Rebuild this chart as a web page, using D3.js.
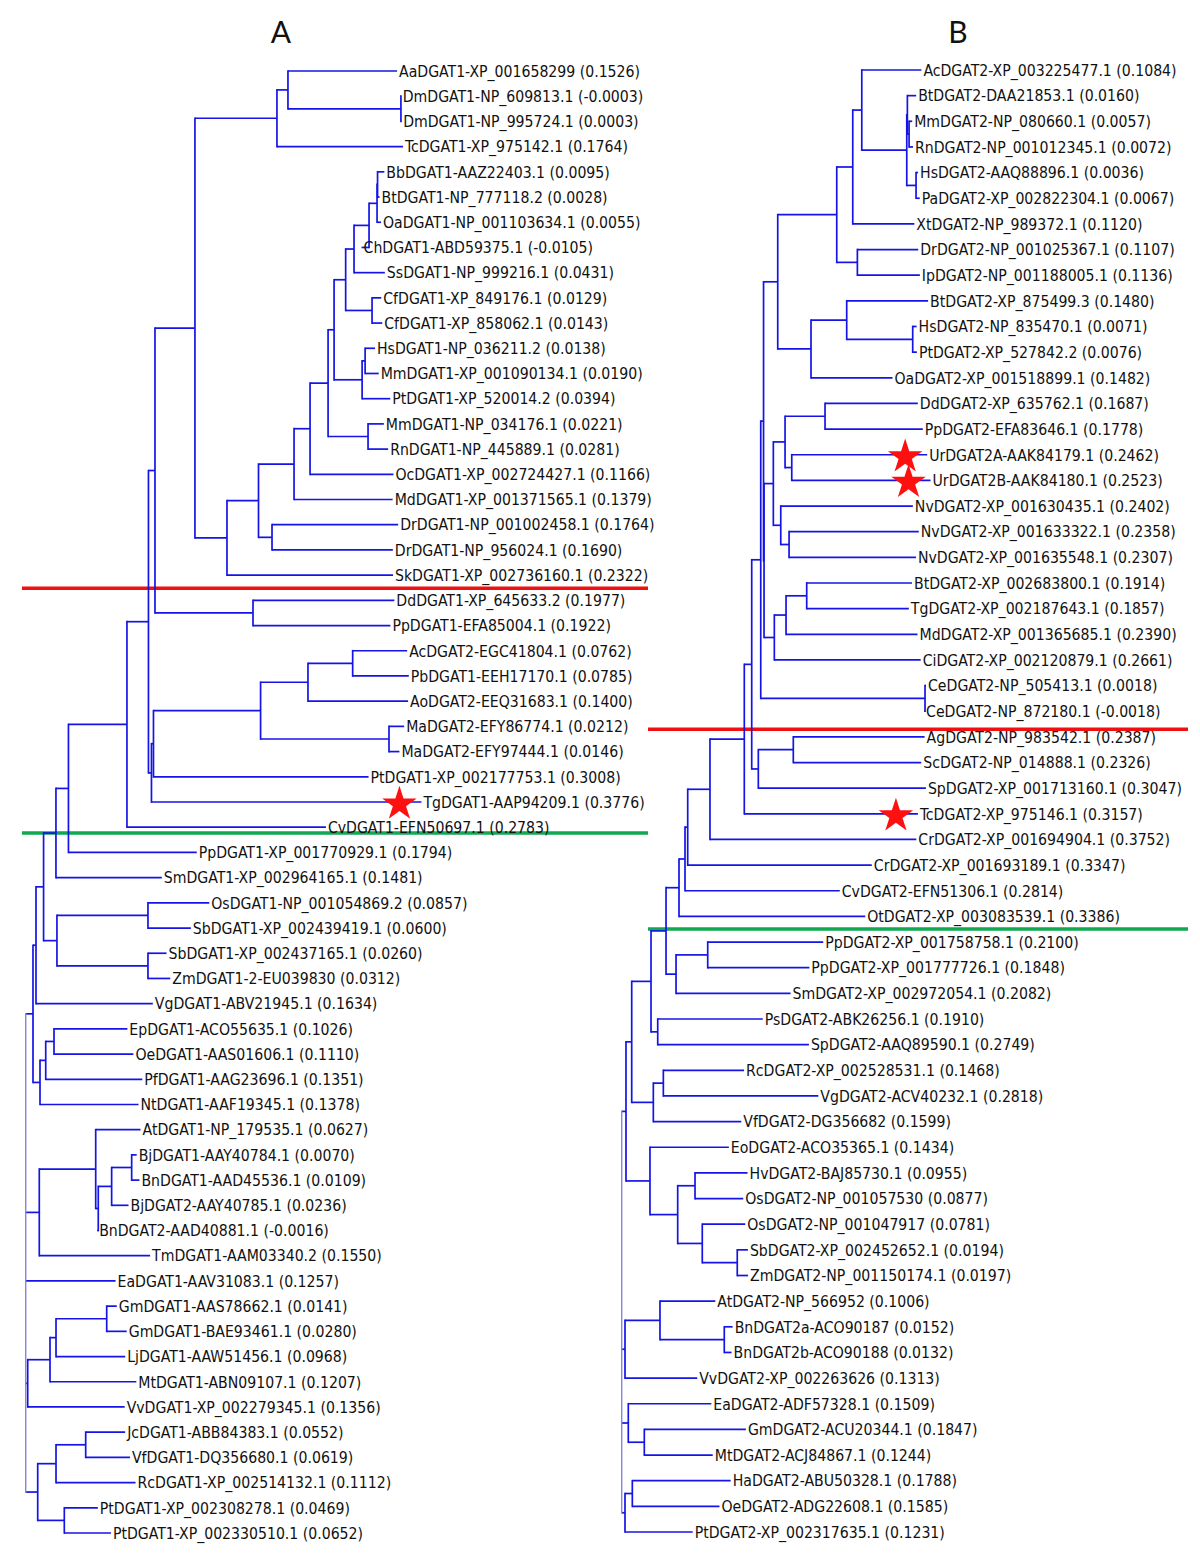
<!DOCTYPE html>
<html><head><meta charset="utf-8">
<script src="https://cdn.jsdelivr.net/npm/d3@7"></script>
<style>body{margin:0;background:#fff}svg{display:block}</style>
</head><body>
<script>
// ---------- Tree A (DGAT1) ----------
const titleA = "A";
const leavesA = [
 ["AaDGAT1-XP_001658299","a288",0.1526],
 ["DmDGAT1-NP_609813.1","aDm",-0.0003],
 ["DmDGAT1-NP_995724.1","aDm",0.0003],
 ["TcDGAT1-XP_975142.1","a277",0.1764],
 ["BbDGAT1-AAZ22403.1","aX1",0.0095],
 ["BtDGAT1-NP_777118.2","aX1",0.0028],
 ["OaDGAT1-NP_001103634.1","aX2",0.0055],
 ["ChDGAT1-ABD59375.1","a369",-0.0105],
 ["SsDGAT1-NP_999216.1","a354",0.0431],
 ["CfDGAT1-XP_849176.1","aCf",0.0129],
 ["CfDGAT1-XP_858062.1","aCf",0.0143],
 ["HsDGAT1-NP_036211.2","a365",0.0138],
 ["MmDGAT1-XP_001090134.1","a365",0.0190],
 ["PtDGAT1-XP_520014.2","a362",0.0394],
 ["MmDGAT1-NP_034176.1","aMR",0.0221],
 ["RnDGAT1-NP_445889.1","aMR",0.0281],
 ["OcDGAT1-XP_002724427.1","a310",0.1166],
 ["MdDGAT1-XP_001371565.1","a294",0.1379],
 ["DrDGAT1-NP_001002458.1","aDr",0.1764],
 ["DrDGAT1-NP_956024.1","aDr",0.1690],
 ["SkDGAT1-XP_002736160.1","a227",0.2322],
 ["DdDGAT1-XP_645633.2","aDP",0.1977],
 ["PpDGAT1-EFA85004.1","aDP",0.1922],
 ["AcDGAT2-EGC41804.1","aU",0.0762],
 ["PbDGAT1-EEH17170.1","aU",0.0785],
 ["AoDGAT2-EEQ31683.1","aT",0.1400],
 ["MaDGAT2-EFY86774.1","aMa",0.0212],
 ["MaDGAT2-EFY97444.1","aMa",0.0146],
 ["PtDGAT1-XP_002177753.1","aR",0.3008],
 ["TgDGAT1-AAP94209.1","aQ",0.3776],
 ["CvDGAT1-EFN50697.1","a127",0.2783],
 ["PpDGAT1-XP_001770929.1","a68",0.1794],
 ["SmDGAT1-XP_002964165.1","a56",0.1481],
 ["OsDGAT1-NP_001054869.2","aOS",0.0857],
 ["SbDGAT1-XP_002439419.1","aOS",0.0600],
 ["SbDGAT1-XP_002437165.1","aSZ",0.0260],
 ["ZmDGAT1-2-EU039830","aSZ",0.0312],
 ["VgDGAT1-ABV21945.1","a36",0.1634],
 ["EpDGAT1-ACO55635.1","a54",0.1026],
 ["OeDGAT1-AAS01606.1","a54",0.1110],
 ["PfDGAT1-AAG23696.1","a45",0.1351],
 ["NtDGAT1-AAF19345.1","a40",0.1378],
 ["AtDGAT1-NP_179535.1","a95",0.0627],
 ["BjDGAT1-AAY40784.1","aBB",0.0070],
 ["BnDGAT1-AAD45536.1","aBB",0.0109],
 ["BjDGAT2-AAY40785.1","a111",0.0236],
 ["BnDGAT2-AAD40881.1","a98",-0.0016],
 ["TmDGAT1-AAM03340.2","a39",0.1550],
 ["EaDGAT1-AAV31083.1","rA",0.1257],
 ["GmDGAT1-AAS78662.1","aGm",0.0141],
 ["GmDGAT1-BAE93461.1","aGm",0.0280],
 ["LjDGAT1-AAW51456.1","a56L",0.0968],
 ["MtDGAT1-ABN09107.1","a50",0.1207],
 ["VvDGAT1-XP_002279345.1","a27",0.1356],
 ["JcDGAT1-ABB84383.1","a85",0.0552],
 ["VfDGAT1-DQ356680.1","a85",0.0619],
 ["RcDGAT1-XP_002514132.1","a56J",0.1112],
 ["PtDGAT1-XP_002308278.1","a64",0.0469],
 ["PtDGAT1-XP_002330510.1","a64",0.0652]
];
const internalA = [
 ["rA",null,0],["a33","rA",0.0102],["a36","a33",0.0042],["a43","a36",0.0106],
 ["a56","a43",0.0173],["a68","a56",0.0175],["a127","a68",0.0818],["a148","a127",0.0301],
 ["a155","a148",0.0091],["a195","a155",0.0559],["a277","a195",0.1147],["a288","a277",0.0154],
 ["aDm","a288",0.1580],["a227","a195",0.0448],["a258","a227",0.0441],["a294","a258",0.0497],
 ["a310","a294",0.0224],["a328","a310",0.0252],["a334","a328",0.0084],["a345","a334",0.0162],
 ["a354","a345",0.0117],["a369","a354",0.0210],["aX2","a369",0.0112],["aX1","aX2",0.0007],
 ["aCf","a345",0.0369],["a362","a334",0.0392],["a365","a362",0.0042],["aMR","a328",0.0559],
 ["aDr","a258",0.0189],["aDP","a155",0.1371],["aQ","a148",0.0042],["aR","aQ",0.0028],
 ["aS","aR",0.1498],["aT","aS",0.0663],["aU","aT",0.0625],["aMa","aS",0.1796],
 ["a57","a43",0.0187],["aOS","a57",0.1273],["aSZ","a57",0.1273],["a40","a33",0.0098],
 ["a45","a40",0.0080],["a54","a45",0.0116],["a39","rA",0.0190],["a95","a39",0.0789],
 ["a98","a95",0.0036],["a111","a98",0.0187],["aBB","a111",0.0280],["a27","rA",0.0028],
 ["a50","a27",0.0312],["a56L","a50",0.0084],["aGm","a56L",0.0709],["a37","rA",0.0168],
 ["a56J","a37",0.0256],["a85","a56J",0.0415],["a64","a37",0.0372]
];
const starredA = ["TgDGAT1-AAP94209.1"];
const dividersA = [["SkDGAT1-XP_002736160.1",0.52,"red"],["CvDGAT1-EFN50697.1",0.23,"green"]];

// ---------- Tree B (DGAT2) ----------
const titleB = "B";
const leavesB = [
 ["AcDGAT2-XP_003225477.1","bAc",0.1084],
 ["BtDGAT2-DAA21853.1","bM2",0.0160],
 ["MmDGAT2-NP_080660.1","bMR",0.0057],
 ["RnDGAT2-NP_001012345.1","bMR",0.0072],
 ["HsDGAT2-AAQ88896.1","bHP",0.0036],
 ["PaDGAT2-XP_002822304.1","bHP",0.0067],
 ["XtDGAT2-NP_989372.1","b852",0.1120],
 ["DrDGAT2-NP_001025367.1","bDI",0.1107],
 ["IpDGAT2-NP_001188005.1","bDI",0.1136],
 ["BtDGAT2-XP_875499.3","b846",0.1480],
 ["HsDGAT2-NP_835470.1","bHPt",0.0071],
 ["PtDGAT2-XP_527842.2","bHPt",0.0076],
 ["OaDGAT2-XP_001518899.1","b811",0.1482],
 ["DdDGAT2-XP_635762.1","bDP",0.1687],
 ["PpDGAT2-EFA83646.1","bDP",0.1778],
 ["UrDGAT2A-AAK84179.1","bUr",0.2462],
 ["UrDGAT2B-AAK84180.1","bUr",0.2523],
 ["NvDGAT2-XP_001630435.1","bNv",0.2402],
 ["NvDGAT2-XP_001633322.1","bNv2",0.2358],
 ["NvDGAT2-XP_001635548.1","bNv2",0.2307],
 ["BtDGAT2-XP_002683800.1","bBT",0.1914],
 ["TgDGAT2-XP_002187643.1","bBT",0.1857],
 ["MdDGAT2-XP_001365685.1","b786",0.2390],
 ["CiDGAT2-XP_002120879.1","b774",0.2661],
 ["CeDGAT2-NP_505413.1","bCe",0.0018],
 ["CeDGAT2-NP_872180.1","bCe",-0.0018],
 ["AgDGAT2-NP_983542.1","bAS",0.2387],
 ["ScDGAT2-NP_014888.1","bAS",0.2326],
 ["SpDGAT2-XP_001713160.1","b758",0.3047],
 ["TcDGAT2-XP_975146.1","b744",0.3157],
 ["CrDGAT2-XP_001694904.1","b710",0.3752],
 ["CrDGAT2-XP_001693189.1","b687",0.3347],
 ["CvDGAT2-EFN51306.1","b685",0.2814],
 ["OtDGAT2-XP_003083539.1","b679",0.3386],
 ["PpDGAT2-XP_001758758.1","bPP",0.2100],
 ["PpDGAT2-XP_001777726.1","bPP",0.1848],
 ["SmDGAT2-XP_002972054.1","b676",0.2082],
 ["PsDGAT2-ABK26256.1","bPS",0.1910],
 ["SpDGAT2-AAQ89590.1","bPS",0.2749],
 ["RcDGAT2-XP_002528531.1","bRV",0.1468],
 ["VgDGAT2-ACV40232.1","bRV",0.2818],
 ["VfDGAT2-DG356682","b653",0.1599],
 ["EoDGAT2-ACO35365.1","b650",0.1434],
 ["HvDGAT2-BAJ85730.1","bHO",0.0955],
 ["OsDGAT2-NP_001057530","bHO",0.0877],
 ["OsDGAT2-NP_001047917","b702",0.0781],
 ["SbDGAT2-XP_002452652.1","bSZ",0.0194],
 ["ZmDGAT2-NP_001150174.1","bSZ",0.0197],
 ["AtDGAT2-NP_566952","bAB",0.1006],
 ["BnDGAT2a-ACO90187","bBn",0.0152],
 ["BnDGAT2b-ACO90188","bBn",0.0132],
 ["VvDGAT2-XP_002263626","b625",0.1313],
 ["EaDGAT2-ADF57328.1","b628",0.1509],
 ["GmDGAT2-ACU20344.1","bGM",0.1847],
 ["MtDGAT2-ACJ84867.1","bGM",0.1244],
 ["HaDGAT2-ABU50328.1","bHa",0.1788],
 ["OeDGAT2-ADG22608.1","bHa",0.1585],
 ["PtDGAT2-XP_002317635.1","b625b",0.1231]
];
const internalB = [
 ["rB",null,0],["b626","rB",0.0078],["b631","b626",0.0104],["b651","b631",0.0351],
 ["b666","b651",0.0273],["b679","b666",0.0236],["b685","b679",0.0109],["b687","b685",0.0049],
 ["b710","b687",0.0405],["b744","b710",0.0624],["b751","b744",0.0135],["b760","b751",0.0164],
 ["b763","b760",0.0051],["b777","b763",0.0258],["b836","b777",0.1073],["b852","b836",0.0291],
 ["bAc","b852",0.0164],["bM1","bAc",0.0818],["bM2","bM1",0.0011],["bMR","bM2",0.0031],
 ["bHP","bM1",0.0169],["bDI","b836",0.0375],["b811","b777",0.0605],["b846","b811",0.0649],
 ["bHPt","b846",0.1200],["b764","b763",0.0009],["b773","b764",0.0169],["b785","b773",0.0213],
 ["bDP","b785",0.0727],["bUr","b785",0.0122],["bNv","b773",0.0135],["bNv2","bNv",0.0151],
 ["b774","b764",0.0187],["b786","b774",0.0213],["bBT","b786",0.0376],["bCe","b760",0.2987],
 ["b758","b751",0.0120],["bAS","b758",0.0636],["b676","b666",0.0182],["bPP","b676",0.0576],
 ["bPS","b651",0.0122],["b653","b631",0.0393],["bRV","b653",0.0182],["b650","b626",0.0436],
 ["b677","b650",0.0504],["bHO","b677",0.0315],["b702","b677",0.0447],["bSZ","b702",0.0636],
 ["b625","rB",0.0060],["bAB","b625",0.0636],["bBn","bAB",0.1169],["b628","rB",0.0120],
 ["bGM","b628",0.0291],["b625b","rB",0.0060],["bHa","b625b",0.0133]
];
const starredB = ["UrDGAT2A-AAK84179.1","UrDGAT2B-AAK84180.1","TcDGAT2-XP_975146.1"];
const dividersB = [["CeDGAT2-NP_872180.1",0.70,"red"],["OtDGAT2-XP_003083539.1",0.49,"green"]];

// ---------- drawing ----------
const W = 1200, H = 1553;
const svg = d3.select("body").append("svg").attr("width", W).attr("height", H);
svg.append("rect").attr("width", W).attr("height", H).attr("fill", "#fff");

const BRANCH = "#1414e6", ROOTC = "#8585e2";
const FONT = "'DejaVu Sans Condensed', 'DejaVu Sans', sans-serif";
const FS = 16;
const colorMap = {red: "#f01010", green: "#10a850"};

// horizontal squeeze so the reference label width matches the original
const probe = svg.append("text").attr("font-family", FONT).attr("font-size", FS)
  .text("AaDGAT1-XP_001658299 (0.1526)");
const kx = Math.min(1, 241 / probe.node().getComputedTextLength());
probe.remove();

function drawTree(cfg) {
  const {leaves, internal, starred, dividers} = cfg;
  const rows = internal.map(d => ({id: d[0], parent: d[1], len: d[2], idx: null}))
    .concat(leaves.map((d, i) => ({id: d[0], parent: d[1], len: d[2], idx: i})));
  const root = d3.stratify().id(d => d.id).parentId(d => d.parent)(rows);
  root.eachAfter(n => { n.minIdx = n.children ? d3.min(n.children, c => c.minIdx) : n.data.idx; });
  root.sort((a, b) => a.minIdx - b.minIdx);
  root.eachBefore(n => { n.dist = n.parent ? n.parent.dist + n.data.len : 0; });

  const y = d3.scalePoint().domain(d3.range(leaves.length)).range(cfg.yRange);
  const x = d3.scaleLinear().domain([0, 0.6]).range(cfg.xRange);
  root.eachAfter(n => {
    n.px = x(n.dist);
    n.py = n.children ? (n.children[0].py + n.children[n.children.length - 1].py) / 2 : y(n.data.idx);
  });

  const g = svg.append("g");
  const step = y.step();
  const leafPos = new Map(root.leaves().map(l => [l.id, l.py]));
  g.selectAll("line.div").data(dividers).join("line")
    .attr("x1", cfg.divX[0]).attr("x2", cfg.divX[1])
    .attr("y1", d => leafPos.get(d[0]) + d[1] * step)
    .attr("y2", d => leafPos.get(d[0]) + d[1] * step)
    .attr("stroke", d => colorMap[d[2]]).attr("stroke-width", 3.5);

  g.selectAll("line.h").data(root.descendants().filter(n => n.parent)).join("line")
    .attr("x1", n => n.parent.px).attr("x2", n => n.px)
    .attr("y1", n => n.py).attr("y2", n => n.py)
    .attr("stroke", BRANCH).attr("stroke-width", 1.7);
  g.selectAll("line.v").data(root.descendants().filter(n => n.children)).join("line")
    .attr("x1", n => n.px).attr("x2", n => n.px)
    .attr("y1", n => n.children[0].py - 0.85).attr("y2", n => n.children[n.children.length - 1].py + 0.85)
    .attr("stroke", n => n.parent ? BRANCH : ROOTC).attr("stroke-width", n => n.parent ? 1.7 : 1.4);

  const starSet = new Set(starred);
  g.selectAll("path.star").data(root.leaves().filter(l => starSet.has(l.id))).join("path")
    .attr("d", d3.symbol(d3.symbolStar, 370))
    .attr("transform", l => `translate(${l.px - 22},${l.py + 2})`)
    .attr("fill", "#ff1010");

  g.selectAll("text.lab").data(root.leaves()).join("text")
    .attr("transform", l => `translate(${l.px + 2},${l.py}) scale(${kx},1)`)
    .attr("dy", "0.36em")
    .attr("font-family", FONT).attr("font-size", FS).attr("fill", "#111")
    .text(l => `${l.id} (${l.data.len.toFixed(4)})`);

  svg.append("text").attr("x", cfg.titleX).attr("y", 43).attr("text-anchor", "middle")
    .attr("font-family", "Lato, 'Open Sans', sans-serif").attr("font-size", 30).attr("fill", "#111")
    .text(cfg.title);
}

drawTree({leaves: leavesA, internal: internalA, starred: starredA, dividers: dividersA,
  yRange: [71, 1533], xRange: [25.7, 25.7 + 0.6 * 715], divX: [22, 648], title: titleA, titleX: 281});
drawTree({leaves: leavesB, internal: internalB, starred: starredB, dividers: dividersB,
  yRange: [70, 1532], xRange: [621.7, 621.7 + 0.6 * 550], divX: [648, 1188], title: titleB, titleX: 958});
</script>
</body></html>
